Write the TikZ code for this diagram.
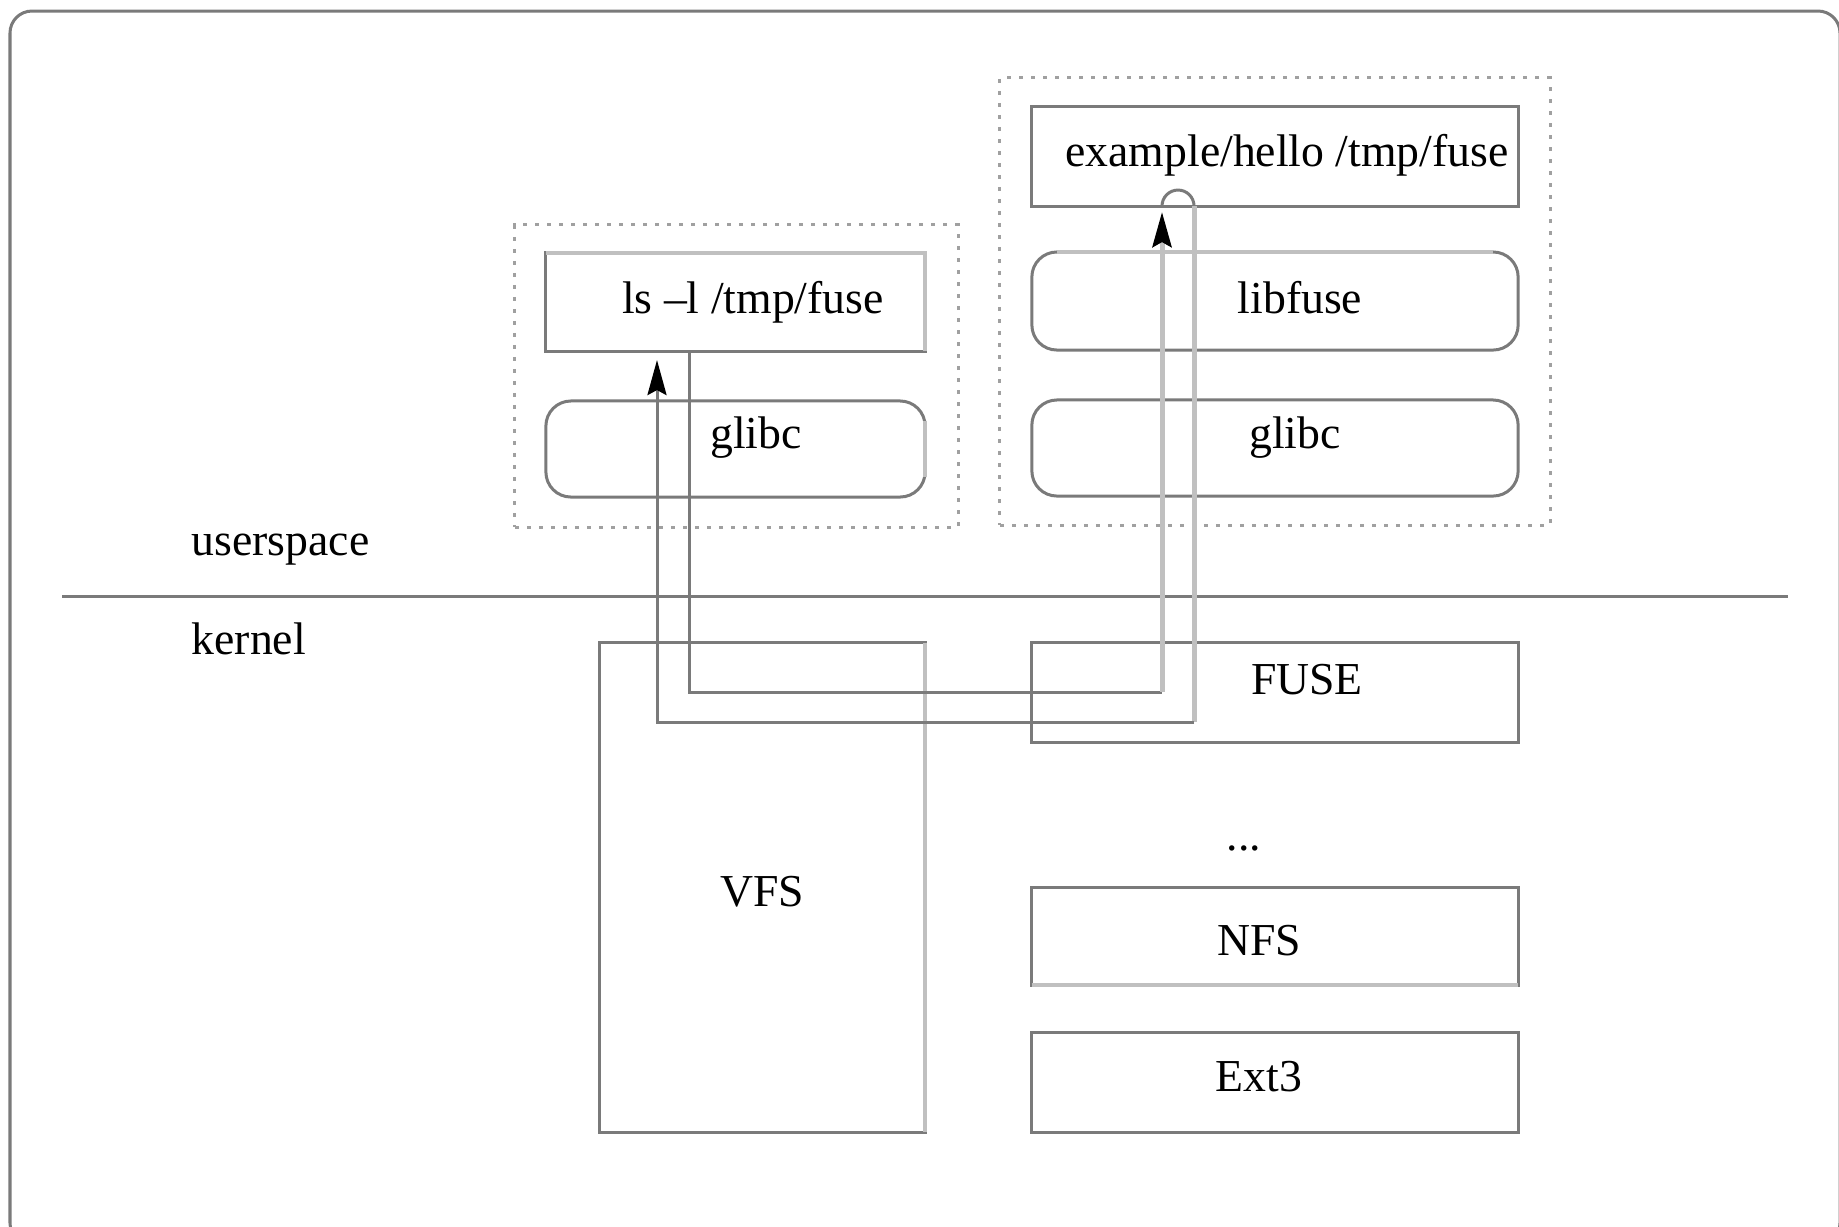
\documentclass[tikz,border=0pt]{standalone}
\usepackage{fontspec}
\setmainfont{Liberation Serif}
\usetikzlibrary{arrows.meta, positioning, calc}

\definecolor{linegray}{RGB}{122,122,122}
\definecolor{edgepale}{RGB}{192,192,192}
\definecolor{dotgray}{RGB}{160,160,160}

\begin{document}
\begin{tikzpicture}[x=0.01cm, y=-0.01cm,
    font=\fontsize{13}{15}\selectfont,
    kbox/.style 2 args={draw=linegray, line width=0.03cm, inner sep=0pt, outer sep=0pt,
      minimum width=#1, minimum height=#2},
    libbox/.style 2 args={kbox={#1}{#2}, rounded corners=0.25cm},
    groupbox/.style 2 args={draw=dotgray, line width=0.03cm, dash pattern=on 0.04cm off 0.08cm,
      inner sep=0pt, outer sep=0pt, minimum width=#1, minimum height=#2},
    txt/.style={inner sep=0pt, anchor=base},
    conn/.style={draw=linegray, line width=0.03cm},
    connpale/.style={draw=edgepale, line width=0.05cm},
    paleedge/.style={draw=edgepale, line width=0.045cm},
    tipup/.style={-{Stealth[length=0.35cm, width=0.19cm, inset=0.05cm, color=black]}},
  ]
  \useasboundingbox (0,0) rectangle (1839,1226);
  \clip (0,0) rectangle (1839,1226);
  % frame
  \draw[linegray, line width=0.03cm, rounded corners=0.22cm] (10,11) rectangle (1840,1245);

  % userspace groups
  \node[groupbox={4.43cm}{3.02cm}] (lsgrp) at (736.5,376) {};
  \node[groupbox={5.5cm}{4.47cm}] (hellogrp) at (1275,301.5) {};

  % userspace boxes
  \node[kbox={3.79cm}{0.98cm}] (ls) at (735.5,302) {};
  \node[libbox={3.79cm}{0.96cm}] (glibcl) at (735.5,449) {};
  \node[kbox={4.86cm}{0.99cm}] (hello) at (1275,156.5) {};
  \node[libbox={4.86cm}{0.98cm}] (libfuse) at (1275,301) {};
  \node[libbox={4.86cm}{0.96cm}] (glibcr) at (1275,448) {};

  % kernel boxes
  \node[kbox={3.25cm}{4.89cm}] (vfs) at (762.5,887.5) {};
  \node[kbox={4.86cm}{0.99cm}] (fuse) at (1275,692.5) {};
  \node[kbox={4.86cm}{0.97cm}] (nfs) at (1275,936.5) {};
  \node[kbox={4.86cm}{0.99cm}] (ext3) at (1275,1082.5) {};

  % pale edges
  \draw[paleedge] (ls.north west) -- (ls.north east) -- (ls.south east);
  \draw[paleedge] ([yshift=-0.2cm]glibcl.north east) -- ([yshift=0.2cm]glibcl.south east);
  \draw[paleedge] ([xshift=0.25cm]libfuse.north west) -- ([xshift=-0.25cm]libfuse.north east);
  \draw[paleedge] (nfs.south west) -- (nfs.south east);
  \draw[paleedge] (vfs.north east) -- (vfs.south east);

  % texts
  \node[txt] (lstxt) at (753,313) {ls –l /tmp/fuse};
  \node[txt] (glibcltxt) at (756,448) {glibc};
  \node[txt] (hellotxt) at (1287,166) {example/hello /tmp/fuse};
  \node[txt] (libfusetxt) at (1300,313) {libfuse};
  \node[txt] (glibcrtxt) at (1295,448) {glibc};
  \node[txt] (vfstxt) at (762,906) {VFS};
  \node[txt] (fusetxt) at (1307,694) {FUSE};
  \node[txt] (dotstxt) at (1244,850) {...};
  \node[txt] (nfstxt) at (1259,955) {NFS};
  \node[txt] (ext3txt) at (1259,1091) {Ext3};

  % userspace / kernel
  \coordinate (sepl) at (62,596.5);
  \coordinate (sepr) at (1788,596.5);
  \draw[conn] (sepl) -- (sepr);
  \node[txt, anchor=base west] (user) at (191,555) {userspace};
  \node[txt, anchor=base west] (kern) at (191,654) {kernel};

  % request
  \coordinate (reqturn) at (1162,692);
  \draw[conn] ($(ls.south)+(-46,0)$) |- (reqturn);
  \draw[connpale, tipup, shorten >=0.06cm] (reqturn) -- (reqturn |- hello.south);
  % reply
  \coordinate (repturn) at (1194,722);
  \draw[conn] ($(hello.south)+(-113,0)$) arc[start angle=180, end angle=0, radius=0.16cm];
  \draw[connpale] ($(hello.south)+(-81,0)$) -- (repturn);
  \draw[conn, tipup, shorten >=0.09cm] (repturn) -| ($(ls.south)+(-78.5,0)$);
\end{tikzpicture}
\end{document}
